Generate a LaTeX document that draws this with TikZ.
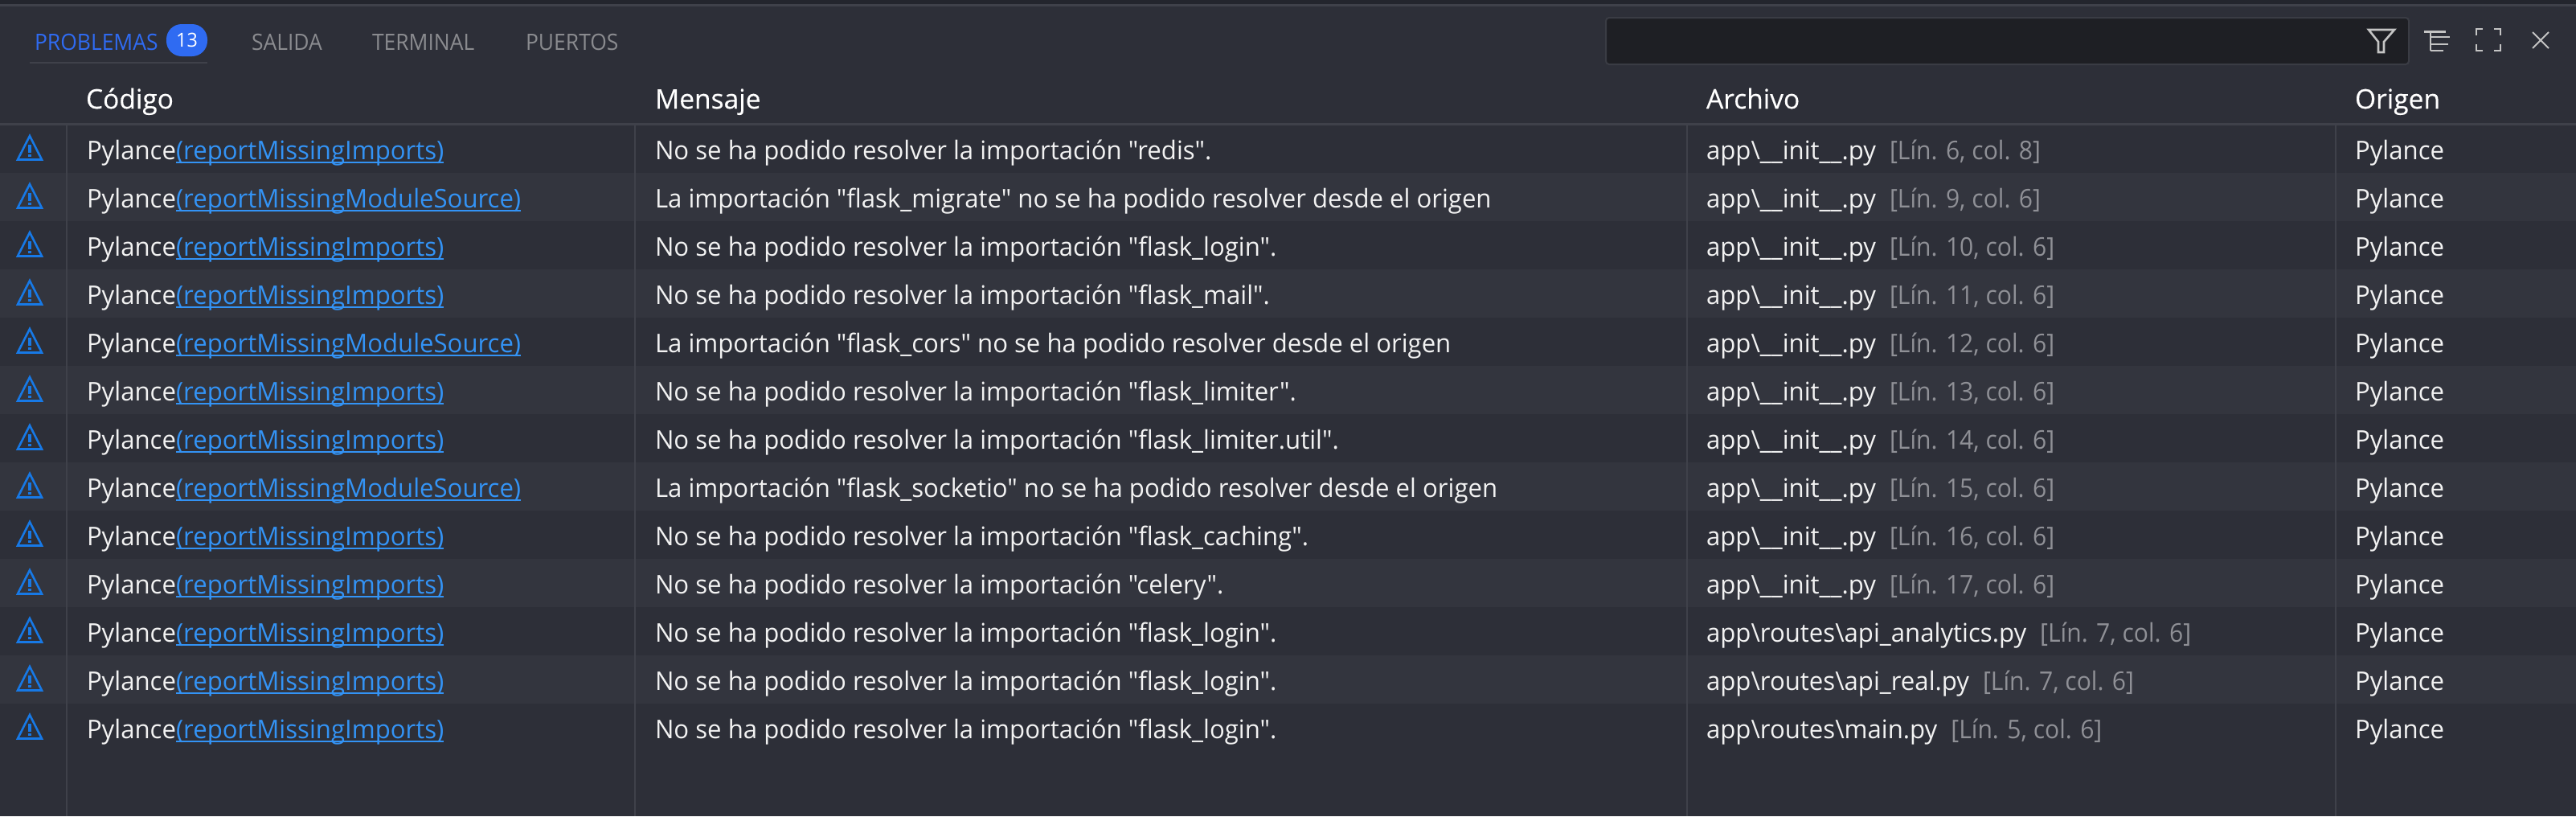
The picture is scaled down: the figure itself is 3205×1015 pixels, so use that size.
\documentclass[tikz,border=0pt]{standalone}
\usepackage{fontspec}
\setmainfont{Open Sans}[FakeStretch=0.973,Ligatures=TeXOff]
\newfontface\hdfont{Open Sans}[FakeStretch=1.0,FakeBold=0.3,Ligatures=TeXOff]
\newfontface\locfont{Open Sans}[FakeStretch=0.94,Ligatures=TeXOff]
\newfontface\tabfont{Open Sans}[FakeStretch=0.945,Ligatures=TeXOff]
\definecolor{bgmain}{HTML}{2D2F38}
\definecolor{bgalt}{HTML}{33353E}
\definecolor{bgtop}{HTML}{23252D}
\definecolor{sep}{HTML}{3F414A}
\definecolor{boxbg}{HTML}{1E1F24}
\definecolor{boxline}{HTML}{3A3C44}
\definecolor{warn}{HTML}{1779E6}
\definecolor{linkc}{HTML}{3393F5}
\definecolor{tabblue}{HTML}{2F6BF2}
\definecolor{tabgray}{HTML}{8A8B8F}
\definecolor{txt}{HTML}{F2F2F2}
\definecolor{loc}{HTML}{8F9096}
\definecolor{ico}{HTML}{C4C4C4}
\tikzset{
  x=1pt,y=-1pt,
  base/.style={inner sep=0pt,outer sep=0pt,anchor=base west,font=\fontsize{32}{36}\selectfont},
  celltext/.style={base,text=txt},
  linktext/.style={base,text=linkc},
  loctext/.style={base,text=loc,font=\fontsize{32}{36}\selectfont\locfont},
  hdtext/.style={base,text=white,font=\fontsize{33.5}{36}\selectfont\hdfont},
  tabtext/.style={base,text=tabgray,font=\fontsize{28}{32}\selectfont\tabfont},
  warnline/.style={draw=warn,line width=2.6pt,line join=miter},
  iconline/.style={draw=ico,line width=2.6pt},
}
\begin{document}
\begin{tikzpicture}
\useasboundingbox (0,0) rectangle (3205,1015);
\fill[bgmain] (0,0) rectangle (3205,1015);
\fill[bgtop] (0,0) rectangle (3205,6);
\fill[sep] (0,5) rectangle (3205,8);
% alternating rows
\foreach \r in {1,3,5,7,9,11}{\fill[bgalt] (0,{156+60*\r-1}) rectangle (3205,{156+60*(\r+1)-1});}
% column rules
\foreach \c/\x in {a/83,b/790,c/2099,d/2906}{
  \coordinate (top\c) at (\x,156); \coordinate (bot\c) at (\x,1015);
  \draw[sep,line width=2pt] (top\c) -- (bot\c);}
\coordinate (hl) at (0,154.5); \coordinate (hr) at (3205,154.5);
\draw[sep,line width=3pt] (hl) -- (hr);
% tabs
\node[tabtext,text=tabblue] (tabp) at (43,62) {PROBLEMAS};
\node[fill=tabblue,rounded corners=19pt,minimum width=51pt,minimum height=40pt,inner sep=0pt] (badge) at (232.5,50) {};
\node[text=white,inner sep=0pt,font=\fontsize{24}{28}\selectfont] (badgetxt) at (232.5,50) {13};
\coordinate (ula) at (37,78); \coordinate (ulb) at (258,78);
\draw[sep,line width=2.5pt] (ula) -- (ulb);
\node[tabtext] (tabs) at (313,62) {SALIDA};
\node[tabtext] (tabt) at (463,62) {TERMINAL};
\node[tabtext] (tabu) at (654,62) {PUERTOS};
% search box
\draw[fill=boxbg,draw=boxline,line width=2pt,rounded corners=4pt] (1998,22) rectangle (2997,80);
% icons
\draw[iconline,line join=miter] (2947,37) -- (2979,37) -- (2966,52) -- (2966,65) -- (2959,65) -- (2959,52) -- cycle;
\draw[iconline] (3016,39.5) -- (3043,39.5);
\draw[iconline] (3024,39.5) -- (3024,63);
\draw[iconline] (3024,46) -- (3048,46);
\draw[iconline] (3024,55) -- (3046,55);
\draw[iconline] (3024,63) -- (3040,63);
\draw[iconline] (3081,44) -- (3081,36) -- (3089,36);
\draw[iconline] (3103,36) -- (3111,36) -- (3111,44);
\draw[iconline] (3081,55) -- (3081,63) -- (3089,63);
\draw[iconline] (3103,63) -- (3111,63) -- (3111,55);
\draw[iconline,line width=2pt] (3151,40) -- (3171,60);
\draw[iconline,line width=2pt] (3171,40) -- (3151,60);
% headers
\node[hdtext] (h1) at (107,135) {Código};
\node[hdtext] (h2) at (815,135) {Mensaje};
\node[hdtext] (h3) at (2123,135) {Archivo};
\node[hdtext] (h4) at (2930,135) {Origen};
% rows
\foreach \n/\lk/\msg/\fil/\lc in {
 1/reportMissingImports/{No se ha podido resolver la importación "redis".}/{app\textbackslash\_\_init\_\_.py}/{[Lín. 6, col. 8]},
 2/reportMissingModuleSource/{La importación "flask\_migrate" no se ha podido resolver desde el origen}/{app\textbackslash\_\_init\_\_.py}/{[Lín. 9, col. 6]},
 3/reportMissingImports/{No se ha podido resolver la importación "flask\_login".}/{app\textbackslash\_\_init\_\_.py}/{[Lín. 10, col. 6]},
 4/reportMissingImports/{No se ha podido resolver la importación "flask\_mail".}/{app\textbackslash\_\_init\_\_.py}/{[Lín. 11, col. 6]},
 5/reportMissingModuleSource/{La importación "flask\_cors" no se ha podido resolver desde el origen}/{app\textbackslash\_\_init\_\_.py}/{[Lín. 12, col. 6]},
 6/reportMissingImports/{No se ha podido resolver la importación "flask\_limiter".}/{app\textbackslash\_\_init\_\_.py}/{[Lín. 13, col. 6]},
 7/reportMissingImports/{No se ha podido resolver la importación "flask\_limiter.util".}/{app\textbackslash\_\_init\_\_.py}/{[Lín. 14, col. 6]},
 8/reportMissingModuleSource/{La importación "flask\_socketio" no se ha podido resolver desde el origen}/{app\textbackslash\_\_init\_\_.py}/{[Lín. 15, col. 6]},
 9/reportMissingImports/{No se ha podido resolver la importación "flask\_caching".}/{app\textbackslash\_\_init\_\_.py}/{[Lín. 16, col. 6]},
 10/reportMissingImports/{No se ha podido resolver la importación "celery".}/{app\textbackslash\_\_init\_\_.py}/{[Lín. 17, col. 6]},
 11/reportMissingImports/{No se ha podido resolver la importación "flask\_login".}/{app\textbackslash routes\textbackslash api\_analytics.py}/{[Lín. 7, col. 6]},
 12/reportMissingImports/{No se ha podido resolver la importación "flask\_login".}/{app\textbackslash routes\textbackslash api\_real.py}/{[Lín. 7, col. 6]},
 13/reportMissingImports/{No se ha podido resolver la importación "flask\_login".}/{app\textbackslash routes\textbackslash main.py}/{[Lín. 5, col. 6]}}{
  \pgfmathsetmacro{\yb}{198+60*(\n-1)}
  \pgfmathsetmacro{\yt}{166+60*(\n-1)}
  \draw[warnline] (37,\yt+3) -- (52,\yt+32.5) -- (22,\yt+32.5) -- cycle;
  \fill[warn] (35,\yt+14) rectangle (39,\yt+24);
  \fill[warn] (35,\yt+26) rectangle (39,\yt+29);
  \node[celltext] (py\n) at (108,\yb) {Pylance};
  \node[linktext] (lk\n) at (py\n.base east) {(\lk)};
  \draw[linkc,line width=2pt] ([yshift=-4pt]lk\n.base west) -- ([yshift=-4pt]lk\n.base east);
  \node[celltext] (m\n) at (815,\yb) {\msg};
  \node[celltext] (f\n) at (2123,\yb) {\fil};
  \node[loctext,xshift=17pt] (l\n) at (f\n.base east) {\lc};
  \node[celltext] (o\n) at (2930,\yb) {Pylance};
}
\end{tikzpicture}
\end{document}
